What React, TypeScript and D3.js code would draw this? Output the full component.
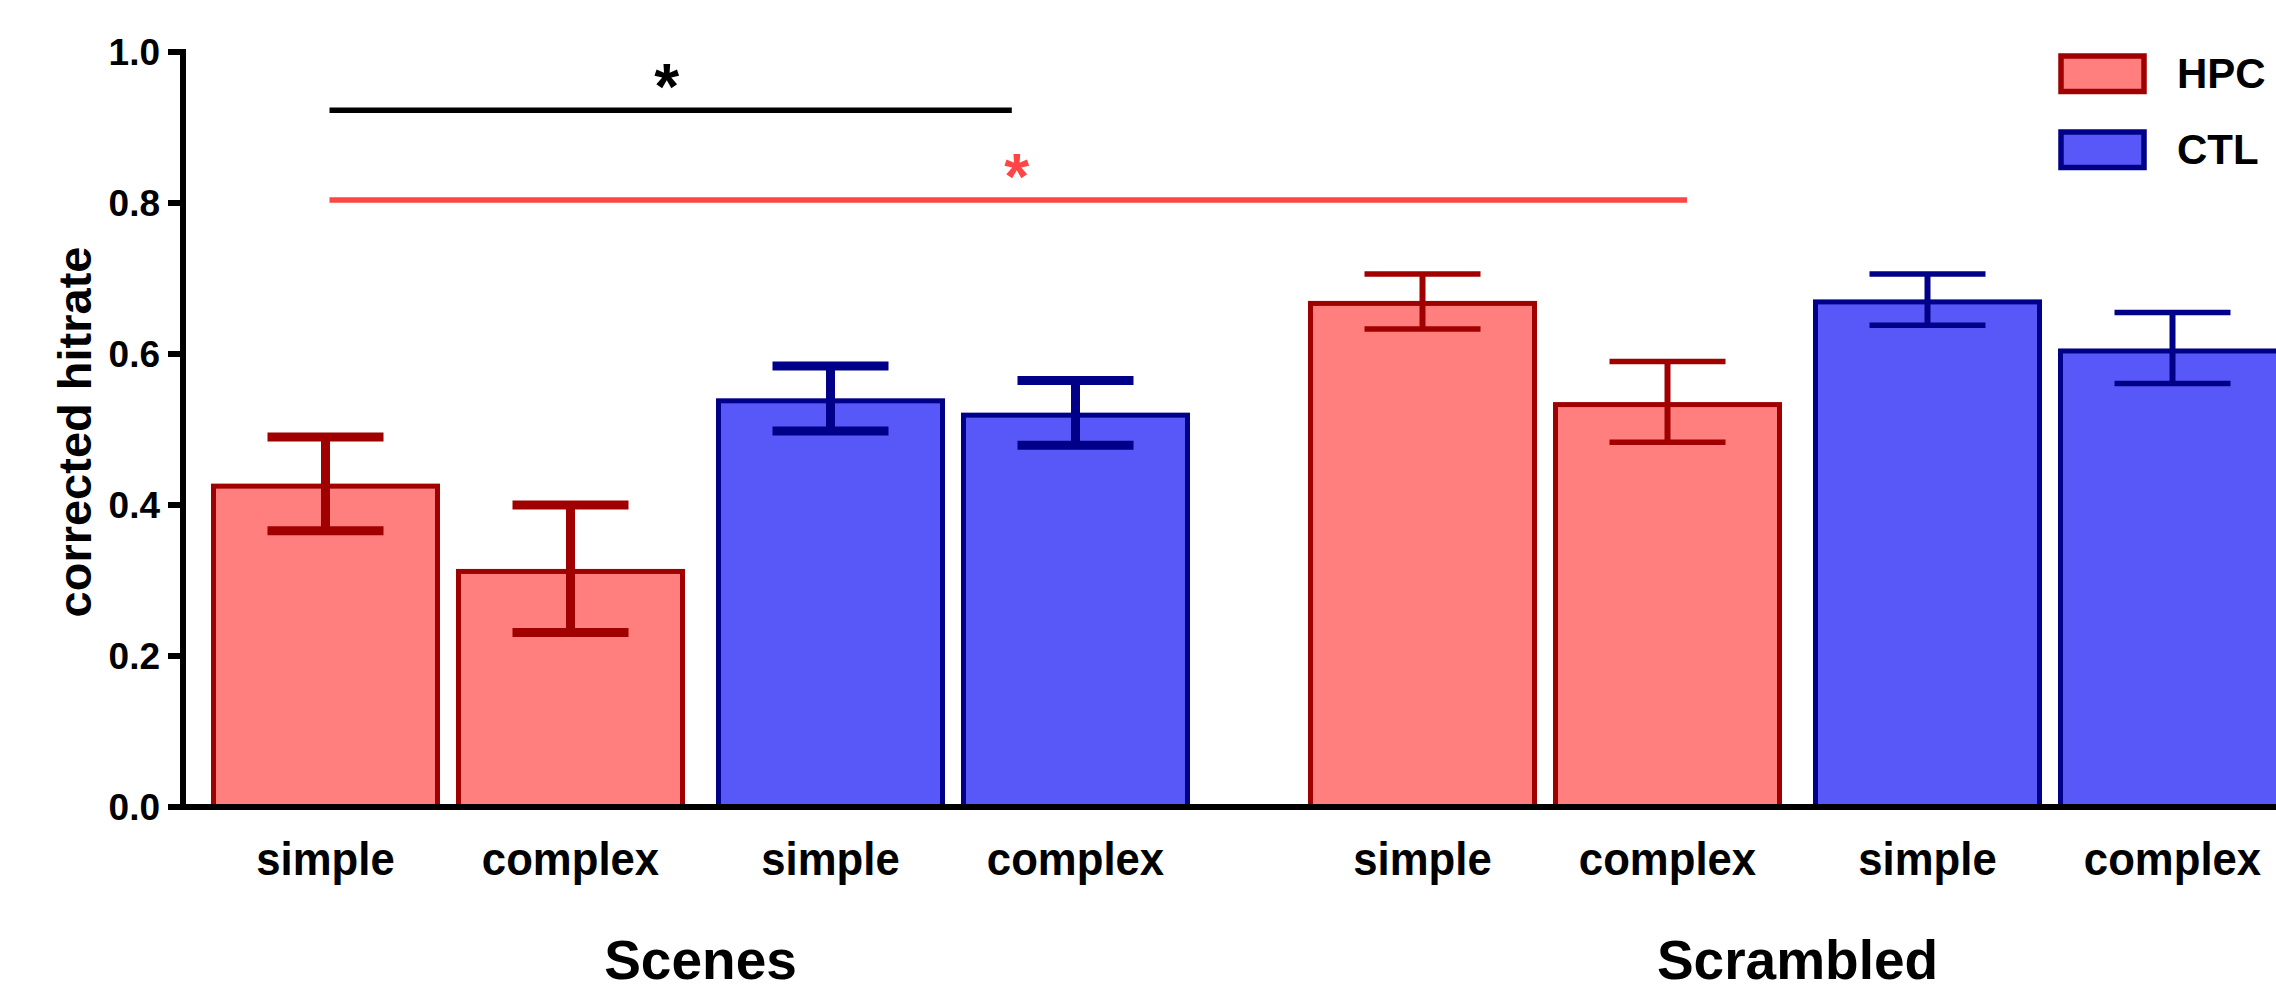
import React from 'react';
import * as d3 from 'd3';

// ---- data ----
const groups = ['Scenes', 'Scrambled'];
const subjects = ['HPC', 'CTL'];
const conditions = ['simple', 'complex'];
// order: Scenes-simple, Scenes-complex, Scrambled-simple, Scrambled-complex
const hpcMean = [0.425, 0.312, 0.667, 0.533];
const hpcLow = [0.366, 0.231, 0.633, 0.483];
const hpcHigh = [0.490, 0.400, 0.706, 0.590];
const ctlMean = [0.538, 0.519, 0.669, 0.604];
const ctlLow = [0.498, 0.479, 0.638, 0.561];
const ctlHigh = [0.584, 0.565, 0.706, 0.655];
const yTicks = [0, 0.2, 0.4, 0.6, 0.8, 1.0];
const yLabel = 'corrected hitrate';
// significance brackets: from/to in bar-index units, level in data units
const sigFrom = [0, 0];
const sigTo = [2.74, 5.075];
const sigLevel = [0.923, 0.804];
const sigStarPos = [1.37, 2.76];
const sigStarLevel = [0.972, 0.853];
const sigColors = ['#000000', '#FF4545'];

const W = 2276;
const H = 991;
const FONT = '"Liberation Sans", Arial, Helvetica, sans-serif';
const fills: Record<string, string> = { HPC: '#FF7F7F', CTL: '#5858F8' };
const strokes: Record<string, string> = { HPC: '#A00000', CTL: '#000088' };

export default function App() {
  const y = d3.scaleLinear().domain([0, 1]).range([807, 52]);
  const xGroup = d3.scalePoint<string>().domain(groups).range([0, 1097]);
  const xSubj = d3.scalePoint<string>().domain(subjects).range([0, 505]);
  const xCond = d3.scalePoint<string>().domain(conditions).range([0, 245]);
  const x0 = 211;
  const barOuter = 229;
  const bw = 5;

  type Bar = { g: string; s: string; c: string; mean: number; lo: number; hi: number; left: number; cx: number };
  const bars: Bar[] = [];
  groups.forEach((g, gi) => {
    subjects.forEach((s) => {
      conditions.forEach((c, ci) => {
        const k = gi * 2 + ci;
        const mean = s === 'HPC' ? hpcMean[k] : ctlMean[k];
        const lo = s === 'HPC' ? hpcLow[k] : ctlLow[k];
        const hi = s === 'HPC' ? hpcHigh[k] : ctlHigh[k];
        const left = x0 + (xGroup(g) as number) + (xSubj(s) as number) + (xCond(c) as number);
        bars.push({ g, s, c, mean, lo, hi, left, cx: left + barOuter / 2 });
      });
    });
  });
  const centers = bars.map((b) => b.cx);
  const posAt = (f: number) => {
    const i = Math.min(Math.floor(f), centers.length - 2);
    const t = f - i;
    return centers[i] + (centers[i + 1] - centers[i]) * t;
  };

  const capW = 116;

  return (
    <svg width={W} height={H} style={{ position: 'absolute', left: 0, top: 0, background: '#fff' }}
      fontFamily={FONT} fontWeight="bold">
      <rect x={0} y={0} width={W} height={H} fill="#fff" />
      {/* bars */}
      {bars.map((b, i) => (
        <rect key={'b' + i} x={b.left + bw / 2} y={y(b.mean)} width={barOuter - bw}
          height={y(0) - y(b.mean)} fill={fills[b.s]} stroke={strokes[b.s]} strokeWidth={bw} />
      ))}
      {/* error bars */}
      {bars.map((b, i) => {
        const sw = b.g === 'Scenes' ? 9 : 6;
        const cw = b.g === 'Scenes' ? 9 : 5.5;
        return (
          <g key={'e' + i} stroke={strokes[b.s]}>
            <line x1={b.cx} x2={b.cx} y1={y(b.hi)} y2={y(b.lo)} strokeWidth={sw} />
            <line x1={b.cx - capW / 2} x2={b.cx + capW / 2} y1={y(b.hi)} y2={y(b.hi)} strokeWidth={cw} />
            <line x1={b.cx - capW / 2} x2={b.cx + capW / 2} y1={y(b.lo)} y2={y(b.lo)} strokeWidth={cw} />
          </g>
        );
      })}
      {/* y axis */}
      <line x1={183} x2={183} y1={y(1) - 3} y2={y(0)} stroke="#000" strokeWidth={6} />
      {yTicks.map((t) => (
        <g key={'t' + t}>
          <line x1={168} x2={183} y1={y(t)} y2={y(t)} stroke="#000" strokeWidth={6} />
          <text x={160} y={y(t) + 13.3} textAnchor="end" fontSize={37} fill="#000">{d3.format('.1f')(t)}</text>
        </g>
      ))}
      {/* x axis */}
      <line x1={168} x2={W} y1={y(0)} y2={y(0)} stroke="#000" strokeWidth={6} />
      <text transform={`translate(91, 432) rotate(-90)`} textAnchor="middle" fontSize={47} fill="#000">{yLabel}</text>
      {/* category labels */}
      {bars.map((b, i) => (
        <text key={'l' + i} transform={`translate(${b.cx}, 875) scale(0.93, 1)`} textAnchor="middle"
          fontSize={47} fill="#000">{b.c}</text>
      ))}
      {groups.map((g) => {
        const gb = bars.filter((b) => b.g === g);
        const cx = (gb[0].left + gb[gb.length - 1].left + barOuter) / 2;
        return <text key={'g' + g} x={cx} y={979} textAnchor="middle" fontSize={55} fill="#000">{g}</text>;
      })}
      {/* significance */}
      {sigFrom.map((f, i) => (
        <g key={'s' + i}>
          <line x1={posAt(f) + 4} x2={posAt(sigTo[i])} y1={y(sigLevel[i])} y2={y(sigLevel[i])}
            stroke={sigColors[i]} strokeWidth={5.5} />
          <text x={posAt(sigStarPos[i])} y={y(sigStarLevel[i]) + 36} textAnchor="middle" fontSize={64}
            fill={sigColors[i]}>*</text>
        </g>
      ))}
      {/* legend */}
      {subjects.map((s, i) => (
        <g key={'lg' + s} transform={`translate(0, ${i * 76})`}>
          <rect x={2061} y={56} width={83} height={35.5} fill={fills[s]} stroke={strokes[s]} strokeWidth={5.5} />
          <text x={2177} y={88} fontSize={42} fill="#000">{s}</text>
        </g>
      ))}
    </svg>
  );
}
